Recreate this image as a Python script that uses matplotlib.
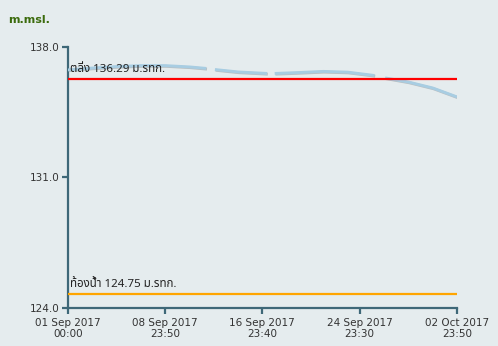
import numpy as np
import pandas as pd
import matplotlib
matplotlib.use('Agg')
import matplotlib.pyplot as plt
import matplotlib.patheffects as pe

# ระดับน้ำ (m.msl.) - NaN = ช่วงข้อมูลขาด
obs_time = ['2017-09-01 00:00', '2017-09-03 00:00', '2017-09-05 00:00', '2017-09-07 00:00',
            '2017-09-09 00:00', '2017-09-11 00:00', '2017-09-12 09:00', '2017-09-12 12:00',
            '2017-09-13 02:00', '2017-09-15 00:00', '2017-09-17 09:00', '2017-09-17 12:00',
            '2017-09-18 00:00', '2017-09-20 00:00', '2017-09-22 00:00', '2017-09-24 00:00',
            '2017-09-26 05:00', '2017-09-26 12:00', '2017-09-27 02:00', '2017-09-29 00:00',
            '2017-10-01 00:00', '2017-10-02 23:50']
level = [136.77, 136.87, 136.95, 137.00,
         137.00, 136.93, 136.85, np.nan,
         136.79, 136.66, 136.58, np.nan,
         136.58, 136.63, 136.69, 136.65,
         136.47, np.nan, 136.34, 136.12,
         135.80, 135.32]

bank_level = 136.29
bed_level = 124.75
bank_label = 'ตลิ่ง 136.29 ม.รทก.'
bed_label = 'ท้องน้ำ 124.75 ม.รทก.'

y_ticks = [124.0, 131.0, 138.0]
x_ticks = ['2017-09-01 00:00', '2017-09-08 23:50', '2017-09-16 23:40',
           '2017-09-24 23:30', '2017-10-02 23:50']

t = pd.to_datetime(obs_time)
xt = pd.to_datetime(x_ticks)
t0, t1 = xt[0], xt[-1]

thai = ['Noto Sans Thai', 'Noto Sans Thai UI', 'Loma', 'Garuda', 'Tlwg Typo', 'DejaVu Sans']
axis_c = '#3e6878'

fig = plt.figure(figsize=(4.98, 3.46), dpi=100, facecolor='#e5ecee')
ax = fig.add_axes([0.1365, 0.1098, 0.7812, 0.7544])
ax.set_facecolor('none')

ax.plot(t, level, color='#a8cde2', lw=2.1, solid_capstyle='butt',
        path_effects=[pe.SimpleLineShadow(offset=(0.5, -0.5), shadow_color='#888888', alpha=0.45),
                      pe.Normal()], zorder=3)
ax.plot([t0, t1], [bank_level, bank_level], color='#ff0000', lw=1.6, zorder=4)
ax.plot([t0, t1], [bed_level, bed_level], color='#ffa500', lw=1.6, zorder=4)

ax.text(t0 + pd.Timedelta(hours=4), bank_level + 0.2, bank_label, fontsize=8.3,
        family=thai, color='#222222', va='bottom', ha='left', zorder=5)
ax.text(t0 + pd.Timedelta(hours=4), bed_level + 0.2, bed_label, fontsize=8.3,
        family=thai, color='#222222', va='bottom', ha='left', zorder=5)

ax.set_xlim(t0, t1)
ax.set_ylim(124, 138)
ax.set_yticks(y_ticks)
ax.set_yticklabels(['%.1f' % v for v in y_ticks])
ax.set_xticks(xt)
ax.set_xticklabels([d.strftime('%d %b %Y\n%H:%M') for d in xt])

for s in ['top', 'right']:
    ax.spines[s].set_visible(False)
for s in ['left', 'bottom']:
    ax.spines[s].set_color(axis_c)
    ax.spines[s].set_linewidth(1.6)
ax.tick_params(axis='both', colors=axis_c, width=1.6, length=4, labelsize=7.5,
               labelcolor='#333333', pad=2)
ax.tick_params(axis='x', pad=3)
for lb in ax.get_xticklabels():
    lb.set_linespacing(1.15)

fig.text(8 / 498, 1 - 20 / 346, 'm.msl.', color='#3b6b0c', fontsize=8,
         fontweight='bold', va='center', ha='left')

fig.savefig('out.png', dpi=100, facecolor=fig.get_facecolor())
